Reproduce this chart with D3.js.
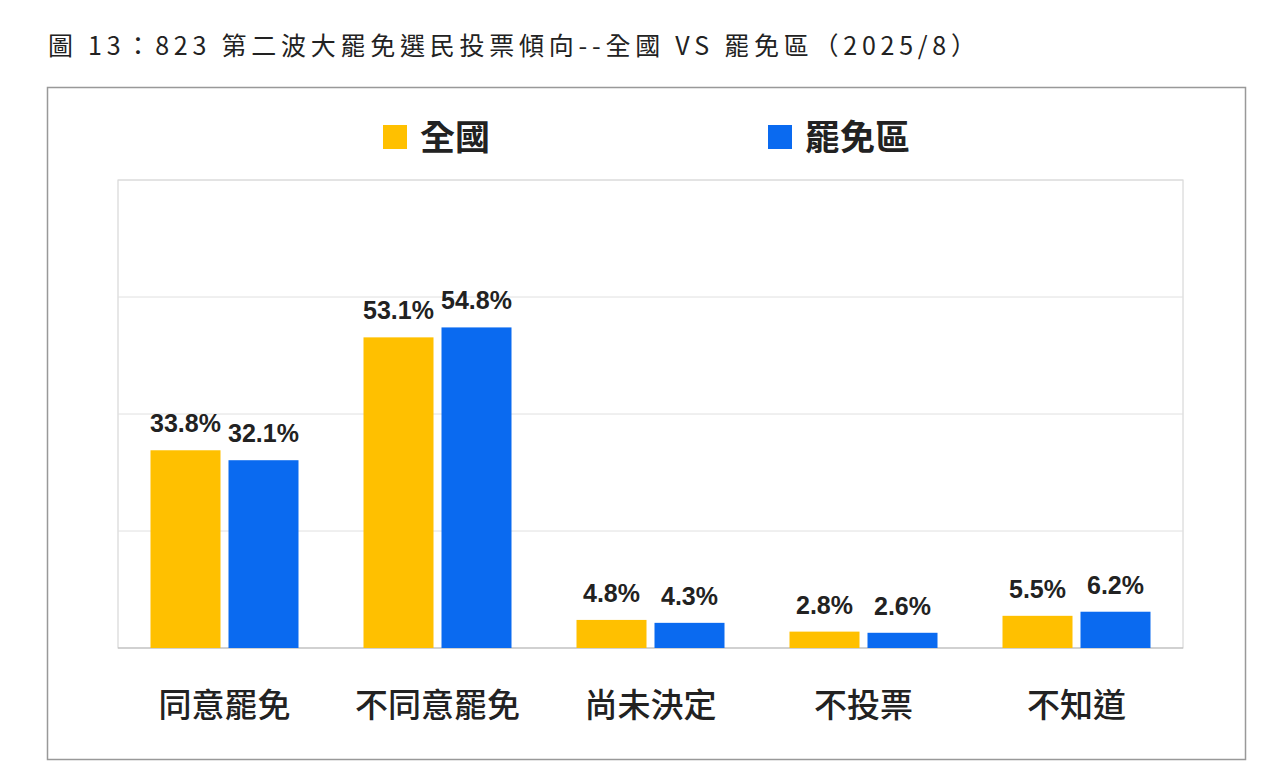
<!DOCTYPE html>
<html><head><meta charset="utf-8">
<script src="https://cdn.jsdelivr.net/npm/d3@7"></script>
<style>body{margin:0;background:#fff}</style></head>
<body><svg id="c" width="1280" height="776"></svg>
<script>
const categories=["同意罷免","不同意罷免","尚未決定","不投票","不知道"];
const seriesNames=["全國","罷免區"];
const national=[33.8,53.1,4.8,2.8,5.5];
const recall=[32.1,54.8,4.3,2.6,6.2];
const yTicks=[0,20,40,60,80];
const colors=["#FFC000","#0A6AF0"];
const svg=d3.select("#c");
const font="'Noto Sans CJK TC','Noto Sans',sans-serif";
svg.append("text").attr("x",48).attr("y",55).attr("font-family","'Noto Sans CJK TC',monospace").attr("font-size",25).attr("fill","#222")
 .attr("textLength",928).attr("lengthAdjust","spacing")
 .text("圖 13：823 第二波大罷免選民投票傾向--全國 VS 罷免區（2025/8）");
svg.append("rect").attr("x",47.5).attr("y",87.5).attr("width",1198).attr("height",672).attr("fill","none").attr("stroke","#999").attr("stroke-width",1.5);
const L=118,R=1183,T=180,B=648;
const x=d3.scaleBand().domain(categories).range([L,R]);
const y=d3.scaleLinear().domain([0,80]).range([B,T]);
svg.append("rect").attr("x",L).attr("y",T).attr("width",R-L).attr("height",B-T).attr("fill","none").attr("stroke","#d0d0d0");
svg.selectAll("line.g").data(yTicks).join("line").attr("x1",L).attr("x2",R).attr("y1",d=>y(d)).attr("y2",d=>y(d))
 .attr("stroke",d=>d===0?"#bbb":"#e0e0e0");
const bw=70,gap=8;
[national,recall].forEach((arr,si)=>{
 const off=si===0?-(bw+gap/2):gap/2;
 const g=svg.append("g");
 g.selectAll("rect").data(arr).join("rect").attr("x",(d,i)=>x(categories[i])+x.bandwidth()/2+off).attr("y",d=>y(d))
  .attr("width",bw).attr("height",d=>B-y(d)).attr("fill",colors[si]);
 g.selectAll("text").data(arr).join("text").attr("x",(d,i)=>x(categories[i])+x.bandwidth()/2+off+bw/2).attr("y",d=>y(d)-18)
  .attr("text-anchor","middle").attr("font-family","Arial,'Liberation Sans',sans-serif").attr("font-weight","bold").attr("font-size",25).attr("fill","#222")
  .text(d=>d.toFixed(1)+"%");
});
svg.selectAll("text.cat").data(categories).join("text").attr("x",d=>x(d)+x.bandwidth()/2).attr("y",717)
 .attr("text-anchor","middle").attr("font-family",font).attr("font-weight",500).attr("font-size",33).attr("fill","#222").text(d=>d);
const lx=[383,768];
seriesNames.forEach((n,i)=>{
 svg.append("rect").attr("x",lx[i]).attr("y",125).attr("width",24).attr("height",24).attr("fill",colors[i]);
 svg.append("text").attr("x",lx[i]+37).attr("y",150).attr("font-family",font).attr("font-weight","bold").attr("font-size",35).attr("fill","#222").text(n);
});
</script></body></html>
